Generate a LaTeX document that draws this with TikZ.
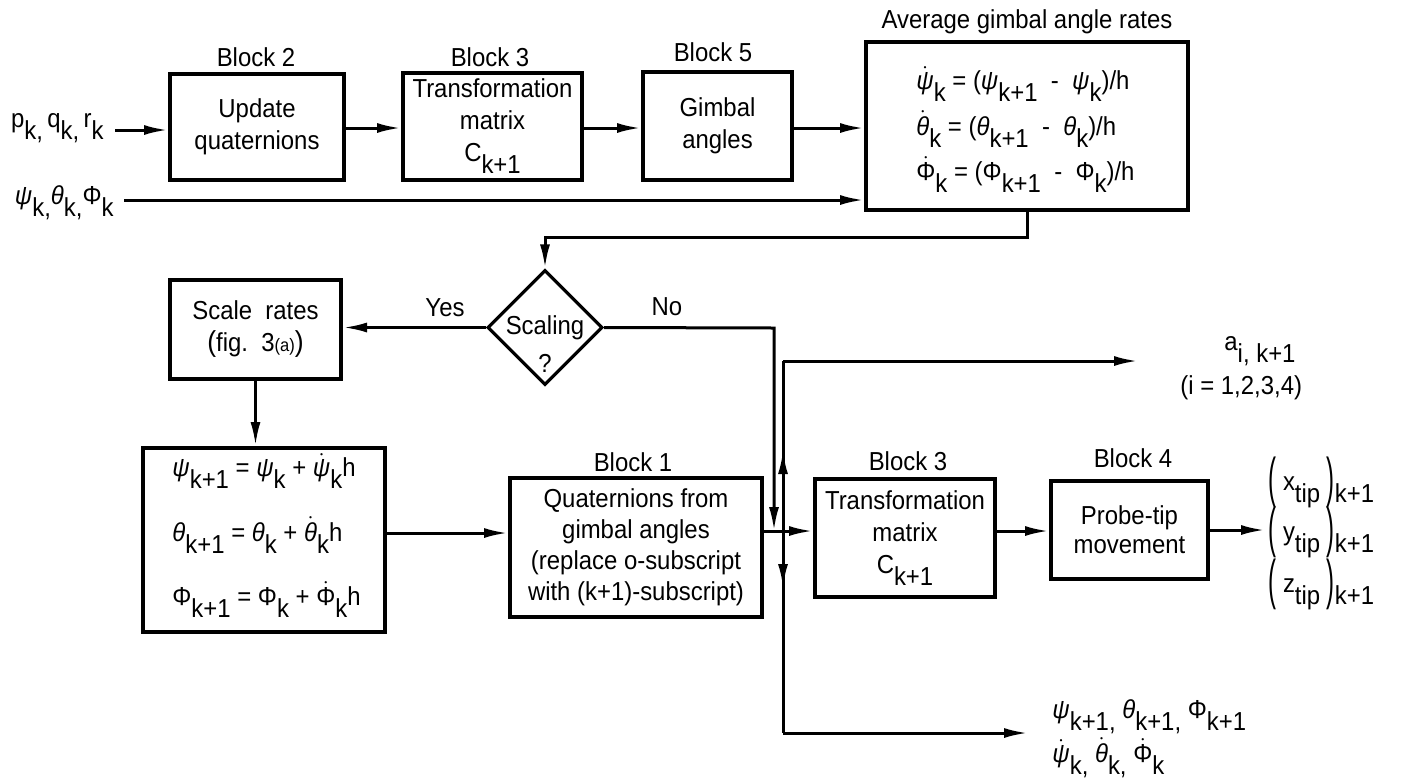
\documentclass[tikz,border=0pt]{standalone}
\usepackage{fontspec}
\setmainfont[FakeStretch=0.92]{Liberation Sans}
\usetikzlibrary{arrows.meta,shapes.geometric,calc}
\newcommand{\lsub}[1]{\raisebox{-6pt}{#1}}
\newcommand{\mypsi}{\textit{ψ}}
\newcommand{\myth}{\textit{θ}}
\newcommand{\myPhi}{Φ}
\newcommand{\mydpsi}{$\dot{\hbox{\itshape ψ}}$}
\newcommand{\mydth}{$\dot{\hbox{\itshape θ}}$}
\newcommand{\mydPhi}{$\dot{\hbox{Φ}}$}
\newcommand{\bpar}[1]{\raisebox{-3pt}{\scalebox{1}[2.1]{(}}\ #1\ \raisebox{-3pt}{\scalebox{1}[2.1]{)}}}
\begin{document}
\begin{tikzpicture}[x=0.5pt,y=-0.5pt,
  every node/.style={font=\fontsize{13}{16}\selectfont, inner sep=0pt},
  blk/.style={draw, line width=2pt, rectangle, align=center},
  arr/.style={line width=1.5pt, -{Latex[length=12pt,width=5pt]}},
  ln/.style={line width=1.5pt},
  lbl/.style={anchor=base}]
\path[use as bounding box] (0,0) rectangle (1404,783);

% ---------- top row ----------
\node[blk, minimum width=87pt, minimum height=53pt] (B2) at (257,127) {Update\\quaternions};
\node[blk, minimum width=89.5pt, minimum height=53.5pt] (B3) at (492.5,126.5) {Transformation\\matrix\\C\lsub{k+1}};
\node[blk, minimum width=74.5pt, minimum height=54pt] (B5) at (717.5,126) {Gimbal\\angles};
\node[blk, minimum width=161pt, minimum height=84pt] (AV) at (1027,126) {};

\node[lbl] (lB2) at (256,66) {Block 2};
\node[lbl] (lB3) at (490,66) {Block 3};
\node[lbl] (lB5) at (713,61) {Block 5};
\node[lbl] (lAV) at (1027,28) {Average gimbal angle rates};

\node[anchor=base west] (e1) at (916,89) {\mydpsi\lsub{k} = (\mypsi\lsub{k+1} \ - \ \mypsi\lsub{k})/h};
\node[anchor=base west] (e2) at (916,135) {\mydth\lsub{k} = (\myth\lsub{k+1} \ - \ \myth\lsub{k})/h};
\node[anchor=base west] (e3) at (916,180) {\mydPhi\lsub{k} = (\myPhi\lsub{k+1} \ - \ \myPhi\lsub{k})/h};

\node[anchor=base east] (inp) at (104,127) {p\lsub{k,}\,q\lsub{k,}\,r\lsub{k}};
\node[anchor=base east] (inang) at (114,204) {\mypsi\lsub{k,}\myth\lsub{k,}\myPhi\lsub{k}};
\coordinate (pin) at (115,130);
\coordinate (yt) at (0,128);
\coordinate (angin) at (124,200);

\draw[arr] (pin) -- (pin -| B2.west);
\draw[arr] (B2.east |- yt) -- (yt -| B3.west);
\draw[arr] (B3.east |- yt) -- (yt -| B5.west);
\draw[arr] (B5.east |- yt) -- (yt -| AV.west);
\draw[arr] (angin) -- (angin -| AV.west);

% ---------- decision ----------
\node[draw, diamond, aspect=1, line width=1.6pt, minimum width=57.5pt, minimum height=57.5pt] (D) at (545,327.5) {};
\node (dt1) at (545,328) {Scaling};
\node (dt2) at (545,363) {?};
\coordinate (bend) at (1027,237);
\draw[arr] (AV.south) -- (bend) -| (D.north);

\node[blk, minimum width=85.5pt, minimum height=49.5pt] (SC) at (255.5,329.5) {Scale\ \ rates\\{\Large(}fig.\ \ 3{\small(a)}{\Large)}};
\draw[arr] (D.west) -- (D.west -| SC.east);
\node[lbl] (yes) at (445,316) {Yes};
\node[lbl] (no) at (667,315) {No};

\node[blk, minimum width=121pt, minimum height=92pt] (EQ) at (264,540) {};
\node[anchor=base west] (q1) at (172,476) {\mypsi\lsub{k+1} = \mypsi\lsub{k} + \mydpsi\lsub{k}h};
\node[anchor=base west] (q2) at (172,541) {\myth\lsub{k+1} = \myth\lsub{k} + \mydth\lsub{k}h};
\node[anchor=base west] (q3) at (172,605) {\myPhi\lsub{k+1} = \myPhi\lsub{k} + \mydPhi\lsub{k}h};
\draw[arr] (SC.south) -- (SC.south |- EQ.north);

% ---------- lower row ----------
\node[blk, minimum width=126pt, minimum height=69.5pt, font=\fontsize{13}{15.5}\selectfont] (B1) at (636,547.5) {Quaternions from\\gimbal angles\\(replace o-subscript\\with (k+1)-subscript)};
\node[blk, minimum width=90pt, minimum height=59pt] (B3b) at (905,538) {Transformation\\matrix\\C\lsub{k+1}};
\node[blk, minimum width=78.5pt, minimum height=49pt, font=\fontsize{13}{14.5}\selectfont] (B4) at (1129.5,530) {Probe-tip\\movement};
\node[lbl] (lB1) at (633,471) {Block 1};
\node[lbl] (lB3b) at (908,470) {Block 3};
\node[lbl] (lB4) at (1133,467) {Block 4};

\coordinate (ye) at (0,533);
\coordinate (yj) at (0,531);
\draw[arr] (ye -| EQ.east) -- (ye -| B1.west);
\draw[arr] (yj -| B1.east) -- (yj -| B3b.west);
\coordinate (nob) at (774,328);
\draw[arr] (D.east) -- (nob) -- (nob |- yj);

\coordinate (vt) at (783,361);
\coordinate (vb) at (783,733);
\coordinate (aout) at (1138,361);
\coordinate (pout) at (1028,733);
\coordinate (upa) at (783,490);
\coordinate (upb) at (783,450);
\coordinate (dna) at (783,550);
\coordinate (dnb) at (783,588);
\draw[ln] (vt) -- (vb);
\draw[arr] (vt) -- (aout);
\draw[arr] (vb) -- (pout);
\draw[arr] (upa) -- (upb);
\draw[arr] (dna) -- (dnb);

\draw[arr] (yj -| B3b.east) -- (yj -| B4.west);
\coordinate (tipout) at (1265,530);
\draw[arr] (B4.east) -- (tipout);

% ---------- outputs ----------
\node[anchor=base west] (a1) at (1224,350) {a\lsub{i, k+1}};
\node[anchor=base west] (a2) at (1180,394) {(i\ =\ 1,2,3,4)};
\node[anchor=base west] (o1) at (1268,490) {\bpar{x\lsub{tip}}\lsub{k+1}};
\node[anchor=base west] (o2) at (1268,540) {\bpar{y\lsub{tip}}\lsub{k+1}};
\node[anchor=base west] (o3) at (1268,592) {\bpar{z\lsub{tip}}\lsub{k+1}};
\node[anchor=base west] (r1) at (1052,718) {\mypsi\lsub{k+1,}\ \myth\lsub{k+1,}\ \myPhi\lsub{k+1}};
\node[anchor=base west] (r2) at (1052,762) {\mydpsi\lsub{k,}\ \mydth\lsub{k,}\ \mydPhi\lsub{k}};
\end{tikzpicture}
\end{document}
